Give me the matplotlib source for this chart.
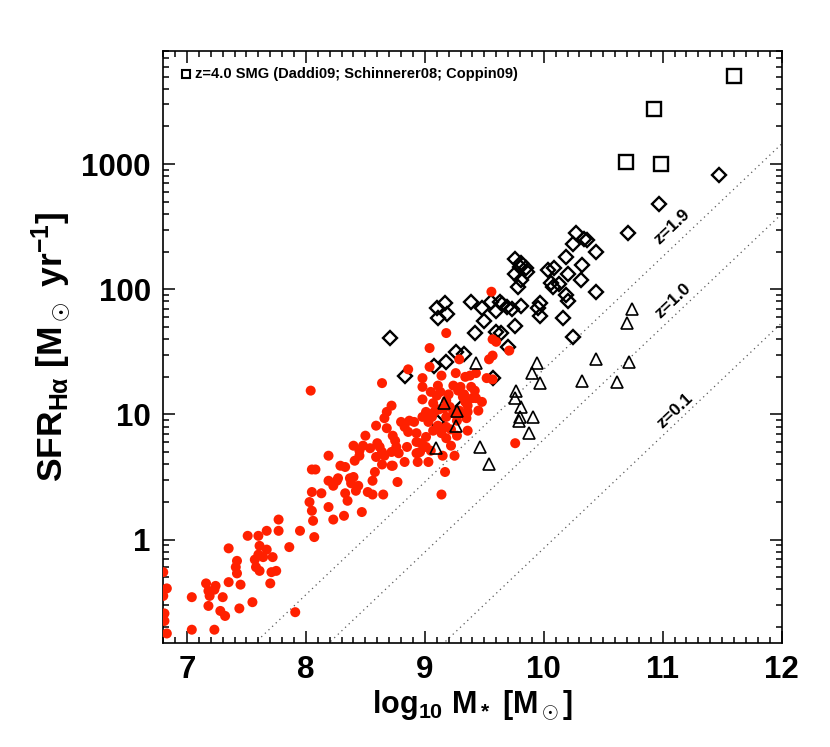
import numpy as np
import matplotlib
matplotlib.use("Agg")
import matplotlib.pyplot as plt
from matplotlib.ticker import FixedLocator, MultipleLocator, NullFormatter

plt.rcParams['font.family'] = ['Liberation Sans', 'DejaVu Sans']
plt.rcParams['font.weight'] = 'bold'
plt.rcParams['mathtext.fontset'] = 'custom'
plt.rcParams['mathtext.rm'] = 'Liberation Sans:bold'
plt.rcParams['mathtext.bf'] = 'Liberation Sans:bold'
plt.rcParams['mathtext.it'] = 'Liberation Sans:bold'
plt.rcParams['mathtext.default'] = 'bf'

# z=4 SMGs (squares)
smg_logm = [11.60, 10.93, 10.69, 10.99]
smg_logsfr = [3.70, 3.44, 3.02, 3.00]

# z~2 sample (open diamonds)
dia_logm = [11.47, 10.97, 10.71, 10.27, 10.34, 10.36, 10.25, 10.44, 10.19, 9.76,
            9.81, 9.85, 9.80, 9.86, 9.76, 10.04, 10.09, 10.32, 10.20, 9.81,
            9.78, 10.06, 10.08, 10.13, 10.31, 10.19, 10.20, 10.44, 9.39, 9.17,
            9.10, 9.19, 9.11, 9.48, 9.56, 9.63, 9.65, 9.69, 9.73, 9.81,
            9.97, 9.95, 9.97, 10.16, 9.50, 9.42, 9.76, 9.60, 9.64, 10.25,
            8.71, 9.70, 9.26, 9.33, 9.18, 9.08, 8.83, 9.57, 9.60, 9.31, 9.10]
dia_logsfr = [2.91, 2.68, 2.45, 2.45, 2.40, 2.39, 2.36, 2.30, 2.26, 2.24,
              2.21, 2.17, 2.18, 2.14, 2.12, 2.15, 2.17, 2.19, 2.12, 2.07,
              2.02, 2.05, 2.02, 2.04, 2.07, 1.95, 1.91, 1.98, 1.90, 1.89,
              1.85, 1.80, 1.77, 1.85, 1.90, 1.90, 1.88, 1.86, 1.84, 1.87,
              1.89, 1.85, 1.79, 1.77, 1.75, 1.65, 1.71, 1.66, 1.65, 1.62,
              1.61, 1.54, 1.50, 1.48, 1.42, 1.39, 1.31, 1.29, 1.83, 1.06, 0.94]

# z~1 sample (open triangles)
tri_logm = [9.43, 9.16, 9.27, 9.26, 9.09, 9.46, 9.54, 9.77, 9.76, 9.81,
            9.91, 9.80, 9.79, 9.88, 9.94, 9.90, 9.97, 10.44, 10.72, 10.32,
            10.62, 10.74, 10.70]
tri_logsfr = [1.41, 1.09, 1.03, 0.91, 0.73, 0.74, 0.60, 1.19, 1.13, 1.06,
              0.98, 0.98, 0.95, 0.85, 1.41, 1.33, 1.25, 1.44, 1.42, 1.27,
              1.26, 1.84, 1.73]

# this work (filled red circles)
red_logm = [8.05, 8.08, 8.19, 8.26, 8.23, 8.05, 8.13, 8.03, 8.05, 8.19,
            8.06, 8.23, 8.07, 7.77, 7.77, 7.67, 7.60, 7.51, 7.95, 7.86,
            7.61, 7.67, 7.57, 7.60, 7.64, 7.72, 7.58, 7.61, 7.75, 7.71,
            7.70, 7.35, 7.42, 7.41, 7.42, 7.35, 7.45, 7.16, 7.18, 7.19,
            7.24, 7.23, 7.30, 7.04, 7.18, 7.28, 7.32, 7.44, 7.55, 7.91,
            7.04, 7.23, 6.83, 6.81, 6.81, 6.83, 6.80, 6.80,
            8.04, 8.29, 8.33, 8.19, 8.27, 8.37, 8.40, 8.38, 8.44, 8.42,
            8.33, 8.35, 8.32, 8.47, 8.56, 8.52, 8.56, 8.65, 8.77, 8.58,
            8.64, 8.72, 8.83, 8.94, 8.41, 8.45, 8.45, 8.48, 8.40, 8.54,
            8.60, 8.64, 8.59, 8.66, 8.50, 8.59, 8.68, 8.75, 8.76, 8.72,
            8.78, 8.73, 8.85, 8.93, 8.80, 8.87, 8.83, 8.86, 8.93, 8.72,
            8.68, 8.64, 8.86, 9.05, 9.17, 9.14,
            9.56, 9.18, 9.04, 9.57, 9.60, 9.71, 9.57, 9.54, 9.29, 9.04,
            9.14, 9.26, 9.34, 9.38, 9.43, 9.52, 9.57, 8.98, 8.98, 9.11,
            9.13, 9.24, 9.28, 9.32, 9.42, 9.40, 9.48, 8.98, 9.07, 9.10,
            9.08, 9.06, 9.03, 9.01, 9.18, 9.21, 9.24, 9.18, 9.34, 9.36,
            9.29, 9.36, 9.43, 9.45, 9.35, 9.36, 9.27, 9.18, 9.11, 9.07,
            8.91, 8.66, 8.93, 8.97, 9.01, 8.96, 9.03, 9.22, 9.25, 9.15,
            9.76, 8.62, 8.73, 8.98, 9.14, 9.18, 8.94, 9.01, 9.27, 9.31,
            9.20, 9.30, 9.12, 9.39, 9.22, 9.05, 9.33, 9.16]
red_logsfr = [0.56, 0.56, 0.47, 0.47, 0.43, 0.38, 0.37, 0.30, 0.23, 0.26,
              0.15, 0.16, 0.02, 0.16, 0.07, 0.07, 0.03, 0.03, 0.07, -0.06,
              -0.05, -0.08, -0.16, -0.12, -0.14, -0.14, -0.22, -0.25, -0.25, -0.26,
              -0.35, -0.07, -0.17, -0.22, -0.27, -0.34, -0.36, -0.35, -0.41, -0.45,
              -0.37, -0.40, -0.46, -0.46, -0.53, -0.57, -0.61, -0.55, -0.50, -0.58,
              -0.72, -0.72, -0.75, -0.59, -0.65, -0.39, -0.45, -0.26,
              1.19, 0.59, 0.58, 0.67, 0.49, 0.49, 0.50, 0.45, 0.43, 0.39,
              0.37, 0.31, 0.19, 0.22, 0.47, 0.38, 0.36, 0.36, 0.46, 0.54,
              0.60, 0.59, 0.62, 0.62, 0.63, 0.67, 0.71, 0.75, 0.75, 0.73,
              0.77, 0.70, 0.66, 0.67, 0.83, 0.91, 0.89, 0.79, 0.74, 0.70,
              0.69, 0.83, 0.74, 0.69, 0.94, 0.95, 0.90, 0.86, 0.85, 1.07,
              1.02, 1.25, 1.36, 0.71, 0.54, 0.36,
              1.98, 1.65, 1.53, 1.60, 1.58, 1.51, 1.47, 1.44, 1.44, 1.38,
              1.31, 1.33, 1.30, 1.31, 1.33, 1.29, 1.28, 1.29, 1.22, 1.23,
              1.18, 1.23, 1.19, 1.14, 1.19, 1.13, 1.10, 1.12, 1.09, 1.15,
              1.02, 0.98, 0.94, 1.02, 1.11, 1.06, 1.01, 0.98, 1.10, 1.07,
              1.03, 1.02, 1.13, 1.03, 0.97, 0.87, 0.83, 0.90, 0.91, 0.87,
              0.94, 0.97, 0.78, 0.77, 0.74, 0.70, 0.62, 0.75, 0.67, 0.67,
              0.77, 0.74, 0.59, 0.98, 0.85, 0.81, 0.69, 0.82, 0.95, 1.01,
              1.16, 1.22, 1.04, 1.22, 0.88, 1.18, 1.16, 1.05]

# constant-sSFR reference relations (slope 0.9, log SFR at log M = 10)
line_labels = ['z=1.9', 'z=1.0', 'z=0.1']
line_norm10 = [1.36, 0.80, -0.07]
line_slope = 0.9
label_pos = [(11.08, 2.50), (11.09, 1.91), (11.10, 1.03)]

fig = plt.figure(figsize=(8.30, 7.47), dpi=100)
ax = fig.add_axes([0.1967, 0.1396, 0.7449, 0.7921])

xx = np.linspace(6.8, 12.0, 200)
for norm in line_norm10:
    ax.plot(xx, 10 ** (norm + line_slope * (xx - 10)), ls=(0, (1, 3)),
            color='0.35', lw=0.9, zorder=1)
for lab, (lx, ly) in zip(line_labels, label_pos):
    ax.text(lx, 10 ** ly, lab, rotation=43.5, ha='center', va='center',
            fontsize=12.5, fontweight='bold', zorder=5)

ax.plot(dia_logm, 10 ** np.array(dia_logsfr), 'D', ms=6.8, mfc='none',
        mec='black', mew=1.7, zorder=2)
ax.scatter(red_logm, 10 ** np.array(red_logsfr), s=52, color='#ff2000',
           edgecolors='none', zorder=3)
ax.plot(tri_logm, 10 ** np.array(tri_logsfr), '^', ms=8.5, mfc='none',
        mec='black', mew=1.2, zorder=4)
ax.plot(smg_logm, 10 ** np.array(smg_logsfr), 's', ms=10.5, mfc='none',
        mec='black', mew=1.7, zorder=4)

# legend entry
ax.plot([6.99], [10 ** 3.72], 's', ms=6, mfc='none', mec='black', mew=1.5,
        clip_on=False)
ax.text(7.07, 10 ** 3.72, 'z=4.0 SMG (Daddi09; Schinnerer08; Coppin09)',
        fontsize=10.5, fontweight='bold', va='center', ha='left')

ax.set_xlim(6.8, 12.0)
ax.set_ylim(0.15, 8000)
ax.set_yscale('log')

ax.xaxis.set_major_locator(MultipleLocator(1))
ax.xaxis.set_minor_locator(MultipleLocator(0.1))
ax.yaxis.set_major_locator(FixedLocator([1, 10, 100, 1000]))
ax.set_yticklabels(['1', '10', '100', '1000'])
minor = [m * 10.0 ** e for e in range(-1, 4) for m in range(2, 10)]
ax.yaxis.set_minor_locator(FixedLocator(minor))
ax.yaxis.set_minor_formatter(NullFormatter())

ax.tick_params(which='both', direction='in', top=True, right=True,
               width=1.1, labelsize=22.5, pad=9)
ax.tick_params(which='major', length=8.5)
ax.tick_params(which='minor', length=4.5)
for lab in ax.get_xticklabels() + ax.get_yticklabels():
    lab.set_fontweight('bold')
for sp in ax.spines.values():
    sp.set_linewidth(1.2)

ax.set_xlabel(r'log$_{10}$ M$_*$ [M$_\odot$]', fontsize=22, fontweight='bold',
              labelpad=2)
ax.set_ylabel(r'SFR$_{H\alpha}$ [M$_\odot$ yr$^{-1}$]', fontsize=25.5,
              fontweight='bold', labelpad=6)

fig.savefig('out.png', dpi=100)
